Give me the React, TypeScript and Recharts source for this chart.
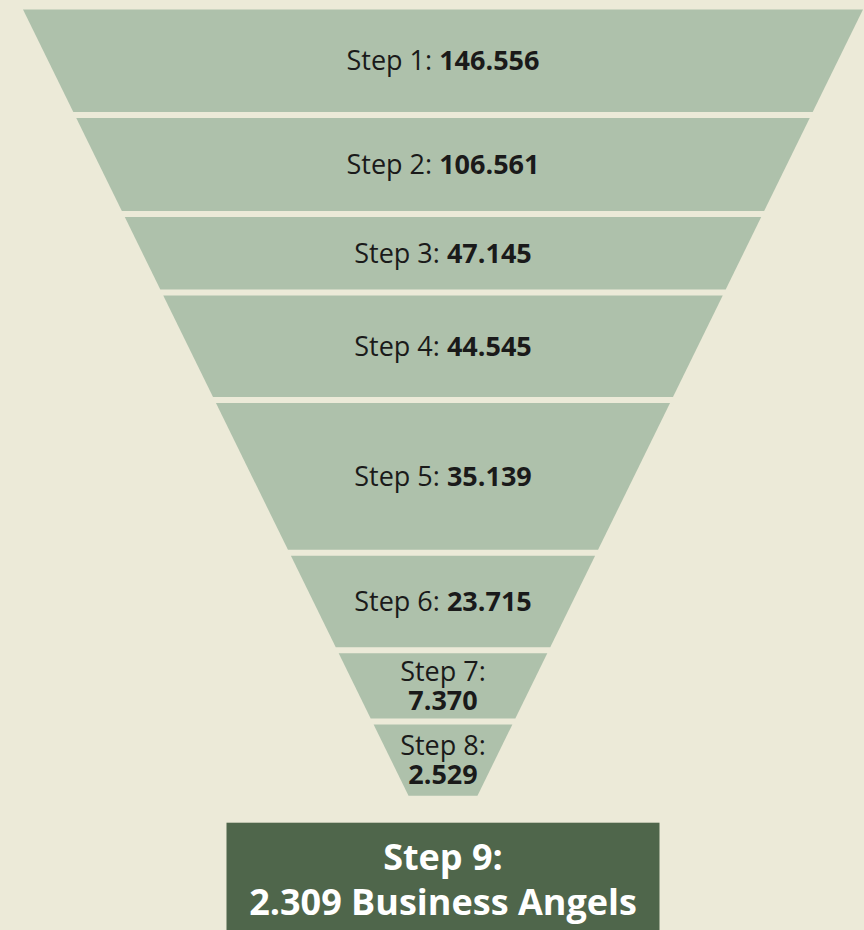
import { BarChart, Bar, XAxis, YAxis } from 'recharts';

// funnel steps, top to bottom
const stepNames = ['Step 1', 'Step 2', 'Step 3', 'Step 4', 'Step 5', 'Step 6', 'Step 7', 'Step 8'];
const stepCounts = [146556, 106561, 47145, 44545, 35139, 23715, 7370, 2529];
// vertical extent each step takes in the funnel (incl. the gap)
const stepDepths = [108.6, 99, 78.4, 107.5, 152.8, 97.5, 71.2, 77.2];

const finalName = 'Step 9';
const finalCount = 2309;
const finalUnit = 'Business Angels';
const finalDepth = 108;

const TOP_PAD = 6.5;
const RESULT_PAD = 24;
const DEPTH_MAX = 930;
const APEX_DEPTH = 866; // where the funnel sides would meet
const GAP = 6;
const BOX_W = 433;

const BG = '#ECEAD8';
const SEG = '#AEC1AB';
const DARK = '#4F664B';
const INK = '#1A1A1A';
const FONT = '"Open Sans", "Noto Sans", sans-serif';

const fmt = (n: number) => String(n).replace(/\B(?=(\d{3})+(?!\d))/g, '.');

const row: Record<string, number | string> = { name: 'funnel', pad: TOP_PAD, gap: RESULT_PAD, result: finalDepth };
stepDepths.forEach((d, i) => {
  row[`s${i}`] = d;
});
const data = [row];

const Segment = (props: any) => {
  const { x, y, width, height, background, step } = props;
  const y0 = Math.min(y, y + height) + GAP / 2;
  const y1 = Math.max(y, y + height) - GAP / 2;
  const cx = x + width / 2;
  const k = background.height / DEPTH_MAX;
  const topPx = background.y + (TOP_PAD + GAP / 2) * k;
  const apexPx = background.y + APEX_DEPTH * k;
  const half = (py: number) => ((width / 2) * (apexPx - py)) / (apexPx - topPx);
  const h0 = half(y0);
  const h1 = half(y1);
  const pts = `${cx - h0},${y0} ${cx + h0},${y0} ${cx + h1},${y1} ${cx - h1},${y1}`;
  const mid = (y0 + y1) / 2;
  const wrap = 2 * h1 < 180;
  const name = `${stepNames[step]}:`;
  const val = fmt(stepCounts[step]);

  return (
    <g>
      <polygon points={pts} fill={SEG} />
      {wrap ? (
        <g fontFamily={FONT} fontSize={27} fill={INK} textAnchor="middle">
          <text x={cx} y={mid - 5}>{name}</text>
          <text x={cx} y={mid + 24} fontWeight={700}>{val}</text>
        </g>
      ) : (
        <text x={cx} y={mid + 9.5} fontFamily={FONT} fontSize={27} fill={INK} textAnchor="middle">
          <tspan>{name} </tspan>
          <tspan fontWeight={700}>{val}</tspan>
        </text>
      )}
    </g>
  );
};

const ResultBox = (props: any) => {
  const { x, y, width, height } = props;
  const top = Math.min(y, y + height);
  const h = Math.abs(height);
  const cx = x + width / 2;
  return (
    <g>
      <rect x={cx - BOX_W / 2} y={top} width={BOX_W} height={h} fill={DARK} />
      <g fontFamily={FONT} fontSize={36} fontWeight={700} fill="#FFFFFF" textAnchor="middle">
        <text x={cx} y={top + 47.3}>{`${finalName}:`}</text>
        <text x={cx} y={top + 92.3}>{`${fmt(finalCount)} ${finalUnit}`}</text>
      </g>
    </g>
  );
};

export default function App() {
  return (
    <div style={{ position: 'absolute', left: 0, top: 0, width: 864, height: 930, background: BG, overflow: 'hidden' }}>
      <BarChart
        width={864}
        height={930}
        data={data}
        margin={{ top: 0, right: 1, bottom: 0, left: 23 }}
        barCategoryGap={0}
      >
        <XAxis dataKey="name" hide />
        <YAxis type="number" hide reversed domain={[0, DEPTH_MAX]} allowDataOverflow />
        <Bar dataKey="pad" stackId="f" fill="none" shape={() => <g />} isAnimationActive={false} />
        {stepDepths.map((_, i) => (
          <Bar
            key={i}
            dataKey={`s${i}`}
            stackId="f"
            fill={SEG}
            isAnimationActive={false}
            shape={(p: any) => <Segment {...p} step={i} />}
          />
        ))}
        <Bar dataKey="gap" stackId="f" fill="none" shape={() => <g />} isAnimationActive={false} />
        <Bar dataKey="result" stackId="f" fill={DARK} isAnimationActive={false} shape={(p: any) => <ResultBox {...p} />} />
      </BarChart>
    </div>
  );
}
